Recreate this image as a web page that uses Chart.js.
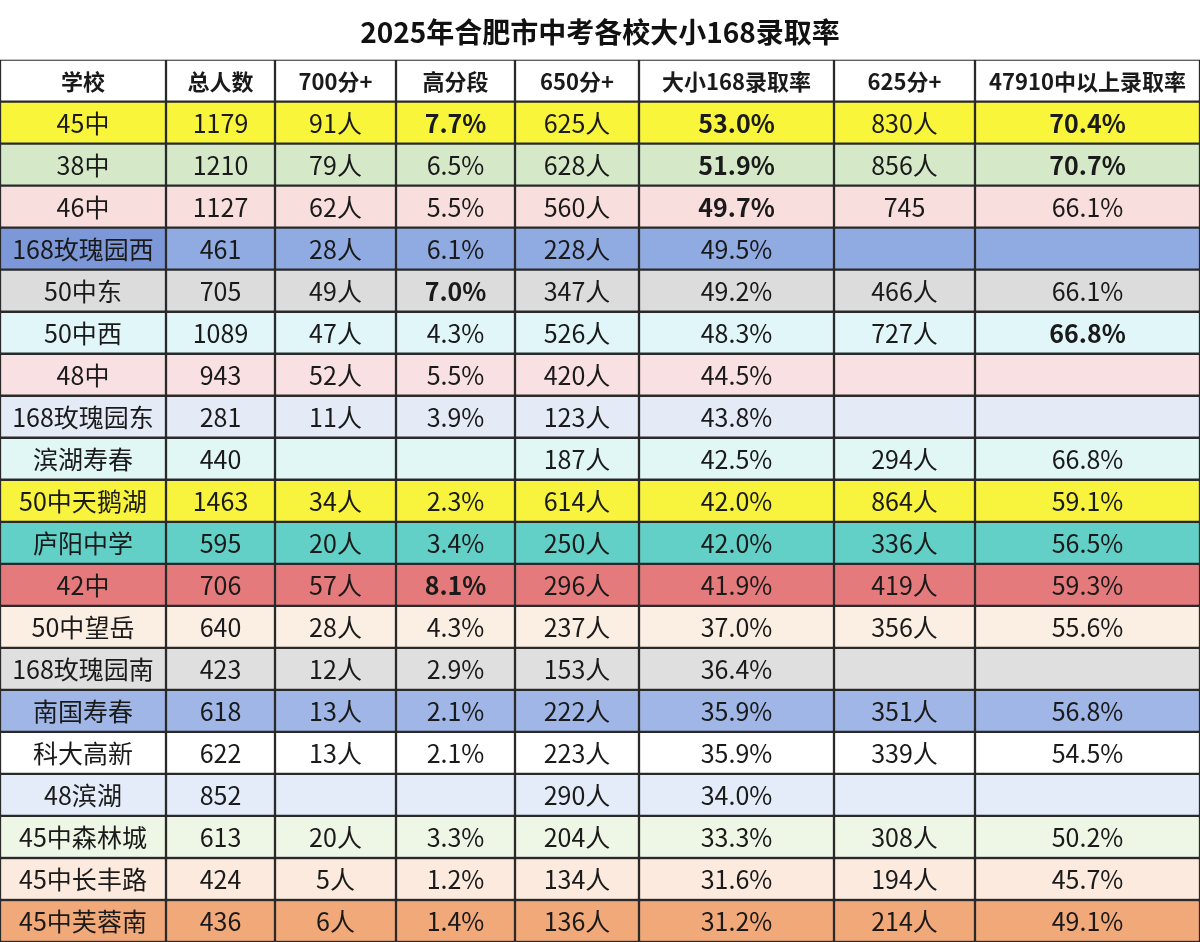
<!DOCTYPE html>
<html lang="zh">
<head>
  <meta charset="UTF-8">
  <title>2025年合肥市中考各校大小168录取率</title>
  <script src="https://cdn.jsdelivr.net/npm/chart.js"></script>
  <style>
    body { margin: 0; background: #fff; }
    #wrap { width: 1200px; height: 942px; }
  </style>
</head>
<body>
  <div id="wrap"><canvas id="myChart"></canvas></div>

  <script>
    // table data
    const headers = ['学校', '总人数', '700分+', '高分段', '650分+', '大小168录取率', '625分+', '47910中以上录取率'];
    const schools = ['45中', '38中', '46中', '168玫瑰园西', '50中东', '50中西', '48中', '168玫瑰园东', '滨湖寿春', '50中天鹅湖',
      '庐阳中学', '42中', '50中望岳', '168玫瑰园南', '南国寿春', '科大高新', '48滨湖', '45中森林城', '45中长丰路', '45中芙蓉南'];
    const totals = ['1179', '1210', '1127', '461', '705', '1089', '943', '281', '440', '1463',
      '595', '706', '640', '423', '618', '622', '852', '613', '424', '436'];
    const over700 = ['91人', '79人', '62人', '28人', '49人', '47人', '52人', '11人', '', '34人',
      '20人', '57人', '28人', '12人', '13人', '13人', '', '20人', '5人', '6人'];
    const highRate = ['7.7%', '6.5%', '5.5%', '6.1%', '7.0%', '4.3%', '5.5%', '3.9%', '', '2.3%',
      '3.4%', '8.1%', '4.3%', '2.9%', '2.1%', '2.1%', '', '3.3%', '1.2%', '1.4%'];
    const over650 = ['625人', '628人', '560人', '228人', '347人', '526人', '420人', '123人', '187人', '614人',
      '250人', '296人', '237人', '153人', '222人', '223人', '290人', '204人', '134人', '136人'];
    const rate168 = ['53.0%', '51.9%', '49.7%', '49.5%', '49.2%', '48.3%', '44.5%', '43.8%', '42.5%', '42.0%',
      '42.0%', '41.9%', '37.0%', '36.4%', '35.9%', '35.9%', '34.0%', '33.3%', '31.6%', '31.2%'];
    const over625 = ['830人', '856人', '745', '', '466人', '727人', '', '', '294人', '864人',
      '336人', '419人', '356人', '', '351人', '339人', '', '308人', '194人', '214人'];
    const rate47910 = ['70.4%', '70.7%', '66.1%', '', '66.1%', '66.8%', '', '', '66.8%', '59.1%',
      '56.5%', '59.3%', '55.6%', '', '56.8%', '54.5%', '', '50.2%', '45.7%', '49.1%'];
    const rowColors = ['#f8f53a', '#d5e9c9', '#f9dede', '#90aae2', '#dcdcdc', '#e0f6f8', '#f9e1e3', '#e4ebf7', '#e1f7f5', '#f8f33c',
      '#62d0c6', '#e57a7c', '#fbeee3', '#dfdfdf', '#a0b6e6', '#ffffff', '#e4ecf9', '#eef6e5', '#fbeadd', '#f2a97a'];
    // bold cells as "row:col"
    const boldCells = ['0:3', '0:5', '0:7', '1:5', '1:7', '2:5', '4:3', '5:7', '11:3'];
    // column edges on the x scale
    const colEdges = [0, 166, 275, 396, 515, 639, 834, 975, 1200];

    const columns = [schools, totals, over700, highRate, over650, rate168, over625, rate47910];
    const rowLabels = ['header'].concat(schools);

    const datasets = columns.map((col, j) => ({
      label: headers[j],
      data: rowLabels.map(() => [colEdges[j], colEdges[j + 1]]),
      backgroundColor: rowLabels.map((r, i) => i === 0 ? '#ffffff' : (i === 4 && j === 0 ? '#7d98d8' : rowColors[i - 1])),
      borderColor: '#2a2a2a',
      borderWidth: 1.5,
      borderSkipped: false,
      barPercentage: 1,
      categoryPercentage: 1,
      grouped: false
    }));

    const cellText = {
      id: 'cellText',
      afterDatasetsDraw(chart) {
        const ctx = chart.ctx;
        const x = chart.scales.x, y = chart.scales.y;
        ctx.save();
        ctx.textAlign = 'center';
        ctx.textBaseline = 'middle';
        rowLabels.forEach((r, i) => {
          const cy = y.getPixelForValue(i);
          columns.forEach((col, j) => {
            const cx = x.getPixelForValue((colEdges[j] + colEdges[j + 1]) / 2);
            let txt, font;
            if (i === 0) {
              txt = headers[j];
              font = 'bold 22px "Noto Sans CJK SC"';
            } else {
              txt = col[i - 1];
              const bold = boldCells.includes((i - 1) + ':' + j);
              font = (bold ? 'bold ' : '') + '25px "Noto Sans CJK SC"';
            }
            if (!txt) return;
            ctx.font = font;
            ctx.fillStyle = '#1a1a1a';
            const w = colEdges[j + 1] - colEdges[j] - 4;
            ctx.fillText(txt, cx, cy + 1, w);
          });
        });
        ctx.restore();
      }
    };

    new Chart(document.getElementById('myChart'), {
      type: 'bar',
      data: { labels: rowLabels, datasets: datasets },
      plugins: [cellText],
      options: {
        indexAxis: 'y',
        responsive: true,
        maintainAspectRatio: false,
        animation: false,
        layout: { padding: 0 },
        plugins: {
          legend: { display: false },
          tooltip: { enabled: false },
          title: {
            display: true,
            text: '2025年合肥市中考各校大小168录取率',
            color: '#111',
            font: { family: '"Noto Sans CJK SC"', size: 28, weight: 'bold' },
            padding: { top: 16, bottom: 10 }
          }
        },
        scales: {
          x: { type: 'linear', min: 0, max: 1200, display: false },
          y: { type: 'category', display: false, offset: true }
        }
      }
    });
  </script>
</body>
</html>
